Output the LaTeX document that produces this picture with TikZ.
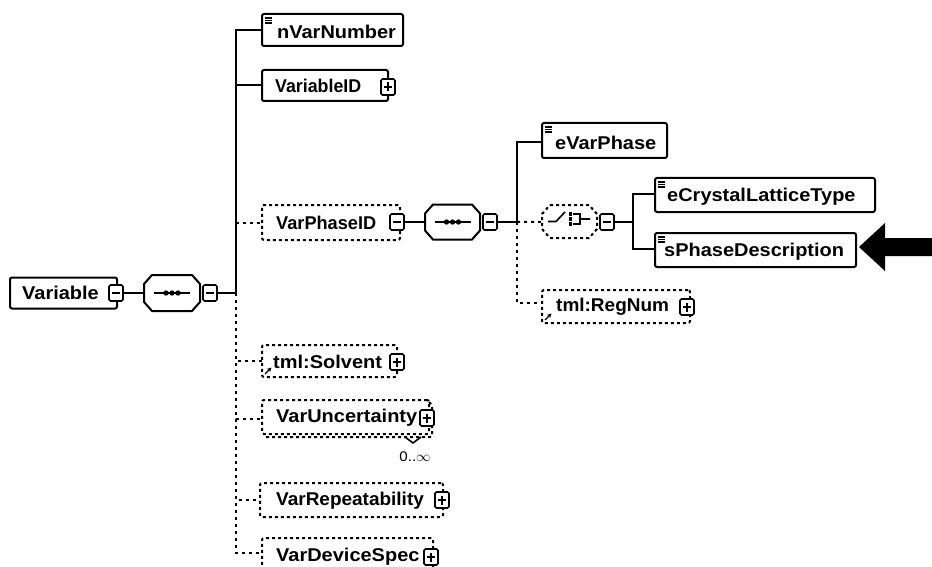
\documentclass[tikz,border=0pt]{standalone}
\usepackage{fontspec}
\setmainfont{Liberation Sans}[FakeStretch=1.08]
\usetikzlibrary{arrows.meta}

\newcommand\octo[2][]{\draw[line width=2pt,#1] ([xshift=8pt]#2.north west) -- ([xshift=-8pt]#2.north east)
  -- ([yshift=-9pt]#2.north east) -- ([yshift=9pt]#2.south east) -- ([xshift=-8pt]#2.south east)
  -- ([xshift=8pt]#2.south west) -- ([yshift=9pt]#2.south west) -- ([yshift=-9pt]#2.north west) -- cycle;}

\tikzset{
  elem/.style={draw, line width=2pt, rounded corners=2pt, inner sep=0pt, outer sep=0pt},
  optelem/.style={elem, dash pattern=on 3pt off 3pt},
  lbl/.style={anchor=west, inner sep=0pt, font=\fontsize{18.5}{20}\selectfont\bfseries},
  pmbox/.style={draw, line width=1.6pt, rounded corners=1.5pt, minimum width=14pt,
    minimum height=16pt, inner sep=0pt, fill=white},
  minus/.style={pmbox, path picture={
    \draw[line width=1.4pt] ([xshift=3pt]path picture bounding box.west)
      -- ([xshift=-3pt]path picture bounding box.east);}},
  plus/.style={pmbox, path picture={
    \draw[line width=1.4pt] ([xshift=3pt]path picture bounding box.west)
      -- ([xshift=-3pt]path picture bounding box.east);
    \draw[line width=1.4pt] ([yshift=-3.5pt]path picture bounding box.north)
      -- ([yshift=3.5pt]path picture bounding box.south);}},
  comp/.style={minimum width=56pt, minimum height=36pt, inner sep=0pt, outer sep=0pt},
  seq/.style={comp, path picture={
    \draw[line width=1.6pt] ([xshift=-18pt]path picture bounding box.center)
      -- ([xshift=18pt]path picture bounding box.center);
    \foreach \d in {-6,0,6}
      \fill ([xshift=\d pt]path picture bounding box.center) circle (2.7pt);}},
  conn/.style={line width=2pt},
  opt/.style={conn, dash pattern=on 3pt off 4pt},
  simple/.pic={\draw[line width=1.2pt] (0,0) -- (7,0) (0,2.5) -- (7,2.5) (0,5) -- (7,5);},
  refarrow/.pic={\draw[line width=1.4pt, -{Stealth[length=4.5pt,width=4.5pt]}] (0,0) -- (6.5,-6.5);}
}

\begin{document}
\begin{tikzpicture}[x=1pt, y=-1pt]
\useasboundingbox (0,0) rectangle (932,567);
\clip (0,0) rectangle (932,567);

% root
\node[elem, minimum width=107, minimum height=31] (var) at (63.5,293) {};
\node[lbl] (var-t) at (22,293) {Variable};
\node[minus] (m0) at (116,293) {};
\node[seq] (seqa) at (172,293) {};
\octo{seqa}
\node[minus] (m1) at (210,293) {};
\coordinate (ta) at (236,293);

% children of Variable
\node[elem, minimum width=141, minimum height=32] (nvar) at (332.5,30) {};
\pic at ([shift={(3,4)}]nvar.north west) {simple};
\node[lbl] (nvar-t) at (277,32) {nVarNumber};

\node[elem, minimum width=126, minimum height=31] (varid) at (325,85.5) {};
\node[lbl] (varid-t) at (275,86) {\scalebox{0.89}[1]{VariableID}};
\node[plus] (p0) at (388,87) {};

\node[optelem, minimum width=138, minimum height=35] (phaseid) at (331,222.5) {};
\node[lbl] (phaseid-t) at (276,223) {\scalebox{0.91}[1]{VarPhaseID}};
\node[minus] (m2) at (397,222) {};

\node[optelem, minimum width=135, minimum height=32] (solvent) at (329.5,361) {};
\pic at ([shift={(3,-3)}]solvent.south west) {refarrow};
\node[lbl] (solvent-t) at (273,362) {tml:Solvent};
\node[plus] (p1) at (397,362) {};

\node[optelem, minimum width=167, minimum height=34] (uncert) at (345.5,417) {};
\draw[line width=2pt, dash pattern=on 3pt off 3pt, rounded corners=2pt]
  (429,402) -- (432,405) -- (432,437) -- (265,437);
\draw[line width=1.6pt] (405,437) -- (413,443) -- (421,437);
\node[lbl] (uncert-t) at (276,418) {VarUncertainty};
\node[plus] (p2) at (427,418) {};
\node[inner sep=0pt, font=\fontsize{14}{16}\selectfont] (uncert-n) at (415,457) {0..$\infty$};

\node[optelem, minimum width=183, minimum height=34] (repeat) at (351.5,500) {};
\node[lbl] (repeat-t) at (276,501) {\scalebox{0.95}[1]{VarRepeatability}};
\node[plus] (p3) at (442,500) {};

\node[optelem, minimum width=171, minimum height=38] (device) at (347.5,557) {};
\node[lbl] (device-t) at (276,557) {VarDeviceSpec};
\node[plus] (p4) at (431,557) {};

% VarPhaseID content
\node[seq, minimum width=55, minimum height=35] (seqb) at (452.5,222) {};
\octo{seqb}
\node[minus] (m3) at (490,222) {};
\coordinate (tb) at (517,222);

\node[elem, minimum width=125, minimum height=35] (evarphase) at (604.5,140.5) {};
\pic at ([shift={(3,4)}]evarphase.north west) {simple};
\node[lbl] (evarphase-t) at (555,143) {eVarPhase};

\node[comp, minimum width=55, minimum height=33] (choice) at (569.5,221.5) {};
\octo[dash pattern=on 3pt off 3pt]{choice}
\draw[line width=1.6pt, shift={(choice.center)}]
  (-21.5,0) -- (-13.5,0) -- (-4.5,-9.5)
  (3.5,-7.5) -- (10.5,-7.5) -- (10.5,2.5) -- (3.5,2.5)
  (10.5,-2.5) -- (20.5,-2.5);
\foreach \d in {-7.5,-2.5,2.5}
  \fill[shift={(choice.center)}] (-0.5,\d-1.7) rectangle (2.8,\d+1.7);
\node[minus] (m4) at (607,222) {};
\coordinate (tc) at (633,222);

\node[elem, minimum width=220, minimum height=34] (crystal) at (765,195) {};
\pic at ([shift={(3,4)}]crystal.north west) {simple};
\node[lbl] (crystal-t) at (667,197) {eCrystalLatticeType};

\node[elem, minimum width=201, minimum height=34] (sphase) at (755.5,250) {};
\pic at ([shift={(3,4)}]sphase.north west) {simple};
\node[lbl] (sphase-t) at (664,252) {sPhaseDescription};

\node[optelem, minimum width=148, minimum height=33] (regnum) at (616,306.5) {};
\pic at ([shift={(3,-3)}]regnum.south west) {refarrow};
\node[lbl] (regnum-t) at (556,307) {\scalebox{0.95}[1]{tml:RegNum}};
\node[plus] (p5) at (687,307) {};

% connectors
\draw[conn] (m0) -- (seqa);
\draw[conn] (m1) -- (ta);
\draw[conn] (ta) |- (nvar);
\draw[conn] (ta) |- (varid);
\draw[opt] (ta) |- (phaseid);
\draw[opt] (ta) |- (solvent);
\draw[opt] (ta) |- (uncert.west |- 0,419);
\draw[opt] (ta) |- (repeat);
\draw[opt] (ta) |- (device.west |- 0,553);
\draw[conn] (m2) -- (seqb);
\draw[conn] (m3) -- (tb);
\draw[conn] (tb) |- (evarphase.west |- 0,142);
\draw[opt] (tb) -- (choice);
\draw[opt] (tb) |- (regnum.west |- 0,303);
\draw[conn] (m4) -- (tc);
\draw[conn] (tc) |- (crystal.west |- 0,194);
\draw[conn] (tc) |- (sphase.west |- 0,249);

% pointer
\fill (859,247) -- (885,223) -- (885,238) -- (932,238) -- (932,256) -- (885,256) -- (885,271) -- cycle;
\end{tikzpicture}
\end{document}
